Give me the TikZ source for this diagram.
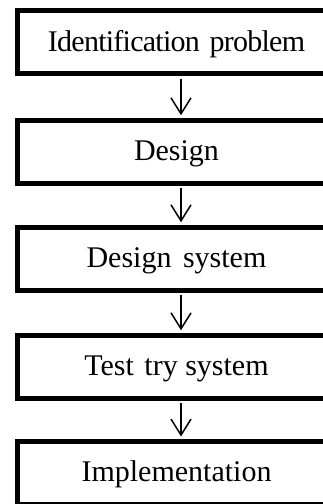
\documentclass[tikz,border=0pt]{standalone}
\usepackage{fontspec}
\setmainfont{Liberation Serif}
\usetikzlibrary{arrows.meta}

\tikzset{
  stagebox/.style={draw=black, line width=5pt, fill=white,
    minimum width=317.4pt, minimum height=63pt, inner sep=0pt,
    font=\fontsize{30}{35}\selectfont, text height=20.5pt, text depth=3pt},
  flowarrow/.style={draw=black, line width=1.5pt,
    -{Straight Barb[length=16pt,width=20pt,line width=1.5pt]},
    shorten >=2.5pt, shorten <=2.5pt}
}

\begin{document}
\begin{tikzpicture}[x=1pt,y=1pt]
  \useasboundingbox (0,0) rectangle (323,504);
  \clip (0,0) rectangle (323,504);
  \fill[white] (0,0) rectangle (323,504);

  % process stages, top to bottom
  \node[stagebox] (b1) at (176.5,461.5) {\addfontfeatures{LetterSpace=-2.5}Identification\hspace{3pt} problem\hspace{24pt}};
  \node[stagebox] (b2) at (176.5,352.25) {Design};
  \node[stagebox] (b3) at (176.5,245.25) {Design\hspace{4pt} system};
  \node[stagebox] (b4) at (176.5,137.25) {Test\hspace{3pt} try system};
  \node[stagebox] (b5) at (176.5,31) {Implementation};

  % links between consecutive stages
  \foreach \a/\b in {b1/b2,b2/b3,b3/b4,b4/b5}
    \draw[flowarrow] ([xshift=4.5pt]\a.south) -- ([xshift=4.5pt]\b.north);
\end{tikzpicture}
\end{document}
